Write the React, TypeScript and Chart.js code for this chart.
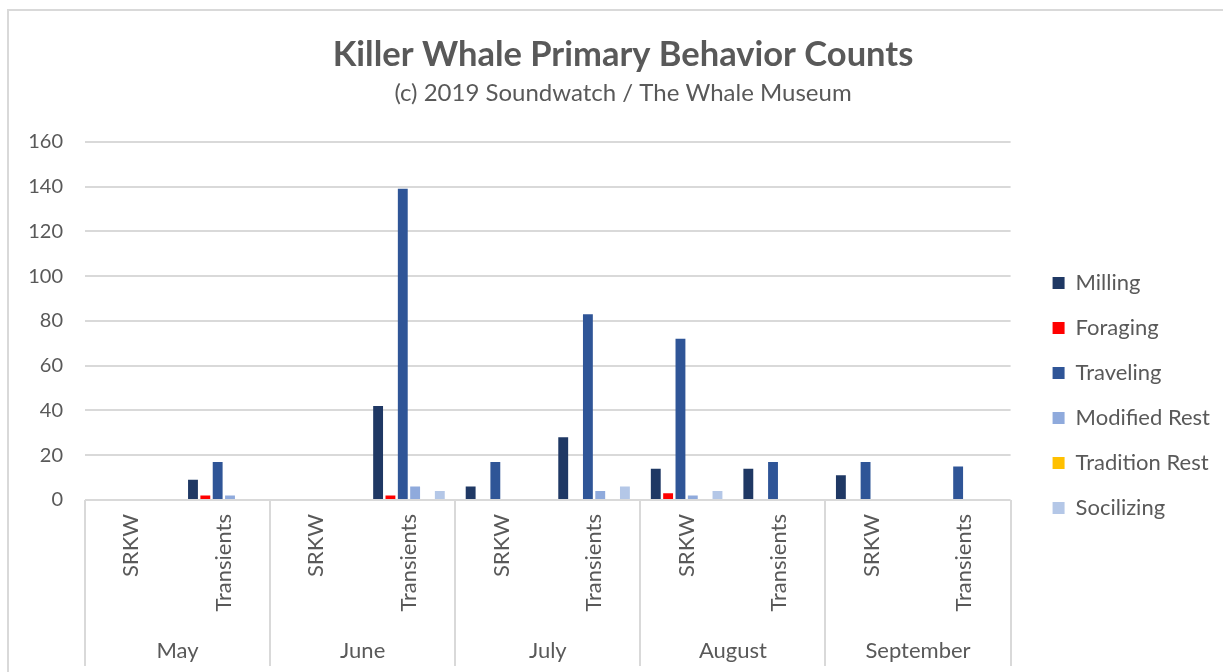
import React, { useEffect, useRef } from 'react';
import { Chart, registerables } from 'chart.js';

Chart.register(...registerables);

const months = ['May', 'June', 'July', 'August', 'September'];
const groups = ['SRKW', 'Transients'];
const categories = months.flatMap(() => groups);

const milling = [0, 9, 0, 42, 6, 28, 14, 14, 11, 0];
const foraging = [0, 2, 0, 2, 0, 0, 3, 0, 0, 0];
const traveling = [0, 17, 0, 139, 17, 83, 72, 17, 17, 15];
const modifiedRest = [0, 2, 0, 6, 0, 4, 2, 0, 0, 0];
const traditionRest = [0, 0, 0, 0, 0, 0, 0, 0, 0, 0];
const socializing = [0, 0, 0, 4, 0, 6, 4, 0, 0, 0];

const seriesNames = ['Milling', 'Foraging', 'Traveling', 'Modified Rest', 'Tradition Rest', 'Socilizing'];
const seriesColors = ['#1f3864', '#ff0000', '#2f5597', '#8faadc', '#ffc000', '#b4c7e7'];
const seriesValues = [milling, foraging, traveling, modifiedRest, traditionRest, socializing];

const yMin = 0;
const yMax = 160;
const yStep = 20;

const TEXT = '#595959';
const GRID = '#d9d9d9';
const FONT = 'Lato';

const multiLevelAxis = {
  id: 'multiLevelAxis',
  afterDraw(chart: any) {
    const { ctx, chartArea, scales } = chart;
    const x = scales.x;
    ctx.save();
    ctx.strokeStyle = GRID;
    ctx.lineWidth = 2;
    ctx.strokeRect(8, 10, 1400, 800);
    ctx.beginPath();
    for (let i = 0; i <= months.length; i++) {
      const px = Math.round(x.getPixelForValue(i * groups.length - 0.5));
      ctx.moveTo(px, chartArea.bottom);
      ctx.lineTo(px, 666);
    }
    ctx.stroke();
    ctx.fillStyle = TEXT;
    ctx.font = `22px ${FONT}`;
    ctx.textAlign = 'center';
    ctx.textBaseline = 'middle';
    months.forEach((m, i) => {
      const a = x.getPixelForValue(i * groups.length - 0.5);
      const b = x.getPixelForValue(i * groups.length + groups.length - 0.5);
      ctx.fillText(m, (a + b) / 2, 651);
    });
    ctx.restore();
  },
};

export default function App() {
  const ref = useRef<HTMLCanvasElement>(null);
  useEffect(() => {
    document.body.style.margin = '0';
    document.body.style.overflow = 'hidden';
    const chart = new Chart(ref.current as HTMLCanvasElement, {
      type: 'bar',
      data: {
        labels: categories,
        datasets: seriesNames.map((name, i) => ({
          label: name,
          data: seriesValues[i],
          backgroundColor: seriesColors[i],
          borderColor: seriesColors[i],
          borderWidth: 0,
          categoryPercentage: 0.8,
          barPercentage: 0.8,
        })),
      },
      options: {
        responsive: false,
        maintainAspectRatio: false,
        animation: false,
        layout: { padding: { left: 26, right: 26, top: 0, bottom: 0 } },
        plugins: {
          title: {
            display: true,
            text: 'Killer Whale Primary Behavior Counts',
            color: TEXT,
            font: { family: FONT, size: 34.5, weight: 'bold' },
            padding: { top: 34, bottom: 3 },
          },
          subtitle: {
            display: true,
            text: '(c) 2019 Soundwatch / The Whale Museum',
            color: TEXT,
            font: { family: FONT, size: 24 },
            padding: { top: 0, bottom: 34.6 },
          },
          legend: {
            position: 'right',
            title: {
              display: true,
              text: '',
              font: { family: FONT, size: 12 },
              padding: { top: 104.6, bottom: 0 },
            },
            labels: {
              boxWidth: 12,
              boxHeight: 12,
              padding: 23,
              color: TEXT,
              font: { family: FONT, size: 22 },
            },
          },
          tooltip: { enabled: false },
        },
        scales: {
          x: {
            grid: { display: false },
            border: { display: false },
            ticks: {
              color: TEXT,
              font: { family: FONT, size: 22 },
              minRotation: 90,
              maxRotation: 90,
              padding: 6,
            },
            afterFit: (s: any) => {
              s.height = 172;
            },
          },
          y: {
            min: yMin,
            max: yMax,
            grid: { color: GRID, lineWidth: 2, drawTicks: false },
            border: { display: false },
            ticks: {
              stepSize: yStep,
              color: TEXT,
              font: { family: FONT, size: 20 },
              padding: 22,
            },
            afterFit: (s: any) => {
              s.width = 59;
            },
          },
          y2: {
            type: 'linear',
            position: 'right',
            display: true,
            grid: { display: false },
            border: { display: false },
            ticks: { display: false },
            afterFit: (s: any) => {
              s.width = 19;
            },
          },
        },
      },
      plugins: [multiLevelAxis],
    } as any);
    return () => chart.destroy();
  }, []);
  return (
    <div style={{ position: 'absolute', left: 0, top: 0, width: 1223, height: 672, overflow: 'hidden', background: '#fff' }}>
      <canvas ref={ref} width={1246} height={672} style={{ display: 'block' }} />
    </div>
  );
}
